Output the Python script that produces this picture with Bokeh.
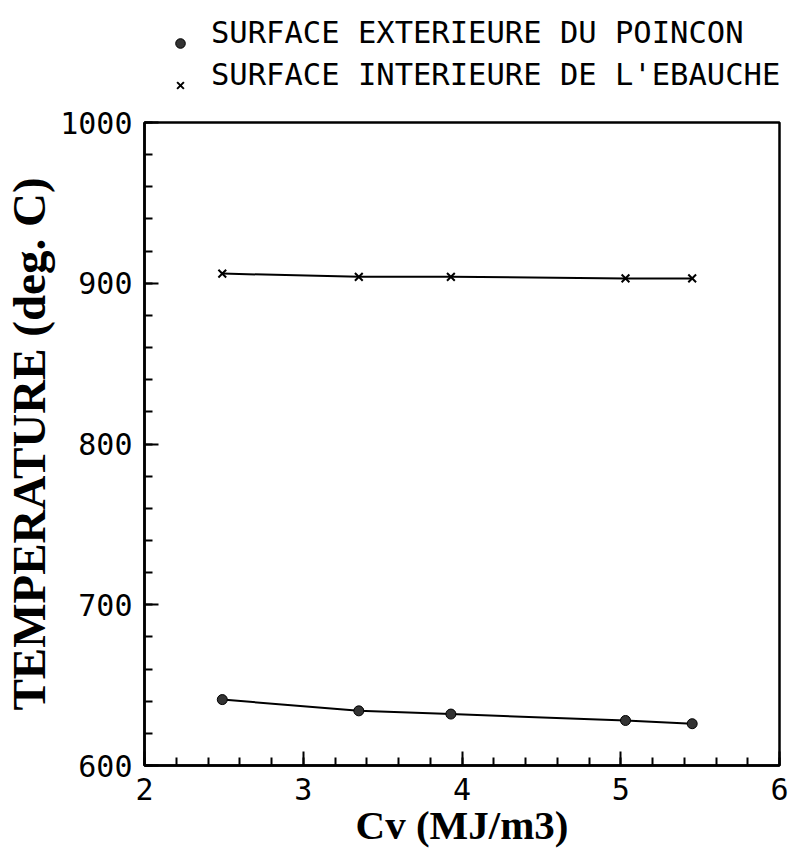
from bokeh.plotting import figure
from bokeh.layouts import column
from bokeh.models import Range1d, SingleIntervalTicker, Legend, LegendItem
from bokeh.embed import file_html
from bokeh.resources import INLINE

# Data
cv = [2.49, 3.35, 3.93, 5.03, 5.45]
t_poincon = [641, 634, 632, 628, 626]
t_ebauche = [906, 904, 904, 903, 903]

label_poincon = "SURFACE EXTERIEURE DU POINCON"
label_ebauche = "SURFACE INTERIEURE DE L'EBAUCHE"
x_label = "Cv (MJ/m3)"
y_label = "TEMPERATURE (deg. C)"

# ---------- legend strip (above the plot; its frame aligns with the main frame) ----------
lg = figure(width=788, height=100, output_backend="svg", toolbar_location=None,
            x_axis_type=None, y_axis_type=None, x_range=Range1d(0, 1), y_range=Range1d(0, 1),
            min_border=0)
lg.outline_line_color = None
lg.xgrid.visible = False
lg.ygrid.visible = False
lg.background_fill_color = "white"
lg.border_fill_color = "white"
# same series, outside this strip's ranges: only their legend keys show
k1 = lg.scatter(cv, t_poincon, marker="circle", fill_color="#333333", line_color="black", line_width=1)
k2 = lg.scatter(cv, t_ebauche, marker="x", line_color="black", line_width=2)
h1 = lg.scatter(cv, t_poincon, marker="circle", alpha=0)
h2 = lg.scatter(cv, t_ebauche, marker="x", alpha=0)


def make_legend(items, loc):
    lgd = Legend(items=items, location=loc, orientation="vertical")
    lgd.label_text_font = "DejaVu Sans Mono"
    lgd.label_text_font_size = "30.5px"
    lgd.label_text_color = "black"
    lgd.label_height = 36
    lgd.glyph_height = 32
    lgd.glyph_width = 24
    lgd.label_standoff = 19
    lgd.spacing = 6
    lgd.margin = 0
    lgd.padding = 0
    lgd.border_line_color = None
    lgd.background_fill_alpha = 0
    return lgd


# texts (keys hidden) and keys (sitting lower, at the text baseline as in the reference)
legend_text = make_legend([LegendItem(label=label_poincon, renderers=[h1]),
                           LegendItem(label=label_ebauche, renderers=[h2])], (24, 8))
legend_keys = make_legend([LegendItem(label=" ", renderers=[k1]),
                           LegendItem(label=" ", renderers=[k2])], (24, -3))
lg.add_layout(legend_text, "center")
lg.add_layout(legend_keys, "center")

# ---------- main plot ----------
p = figure(width=788, height=751, output_backend="svg", toolbar_location=None,
           x_range=Range1d(2, 6), y_range=Range1d(600, 1000),
           min_border_left=139, min_border_right=9, min_border_top=22, min_border_bottom=86)

p.background_fill_color = "white"
p.border_fill_color = "white"
p.xgrid.visible = False
p.ygrid.visible = False
p.outline_line_color = "black"
p.outline_line_width = 2.5

p.line(cv, t_poincon, line_color="black", line_width=2)
p.scatter(cv, t_poincon, marker="circle", size=10, fill_color="#333333", line_color="black", line_width=1)
p.line(cv, t_ebauche, line_color="black", line_width=2)
p.scatter(cv, t_ebauche, marker="x", size=11, line_color="black", line_width=2)

p.xaxis.ticker = SingleIntervalTicker(interval=1, num_minor_ticks=5)
p.yaxis.ticker = SingleIntervalTicker(interval=100, num_minor_ticks=5)

for ax in (p.xaxis, p.yaxis):
    ax.axis_line_width = 2.5
    ax.axis_line_color = "black"
    ax.major_tick_in = 14
    ax.major_tick_out = 0
    ax.minor_tick_in = 8
    ax.minor_tick_out = 0
    ax.major_tick_line_width = 2
    ax.minor_tick_line_width = 2
    ax.major_label_text_font = "DejaVu Sans Mono"
    ax.major_label_text_font_size = "30px"
    ax.major_label_text_color = "black"
    ax.axis_label_text_font = "Liberation Serif"
    ax.axis_label_text_font_style = "bold"
    ax.axis_label_text_color = "black"

p.xaxis.axis_label = x_label
p.yaxis.axis_label = y_label
p.xaxis.axis_label_text_font_size = "41px"
p.yaxis.axis_label_text_font_size = "47px"
p.xaxis.major_label_standoff = 12
p.yaxis.major_label_standoff = 12
p.xaxis.axis_label_standoff = -1
p.yaxis.axis_label_standoff = 2

layout = column(lg, p, spacing=0)
open("out.html", "w").write(file_html(layout, INLINE))
